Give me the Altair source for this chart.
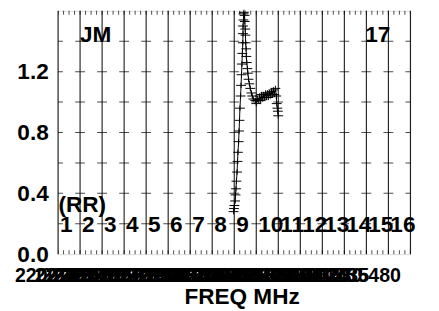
import json
import altair as alt
import pandas as pd

# ---- data ----
trace_x = [7.97, 7.99, 8.01, 8.04, 8.06, 8.08, 8.10, 8.13, 8.15, 8.17, 8.20, 8.22, 8.24, 8.26, 8.29, 8.31,
           8.33, 8.35, 8.37, 8.39, 8.40, 8.40, 8.42, 8.42,
           8.44, 8.47, 8.48, 8.50, 8.51, 8.52, 8.54, 8.55, 8.57, 8.60, 8.62, 8.65, 8.69, 8.73, 8.78, 8.82,
           8.87, 8.96, 9.00,
           9.06, 9.11, 9.15, 9.20, 9.24, 9.29, 9.33, 9.38, 9.42, 9.46, 9.51, 9.55, 9.60, 9.64, 9.69, 9.73,
           9.78, 9.82, 9.87, 9.91, 9.93, 9.96, 9.98, 10.0]
trace_y = [0.28, 0.30, 0.32, 0.35, 0.39, 0.43, 0.48, 0.54, 0.61, 0.67, 0.74, 0.81, 0.88, 0.96, 1.04, 1.11,
           1.18, 1.25, 1.32, 1.39, 1.45, 1.50, 1.54, 1.58,
           1.59, 1.57, 1.53, 1.48, 1.44, 1.39, 1.35, 1.30, 1.26, 1.22, 1.19, 1.15, 1.12, 1.09, 1.06, 1.04,
           1.02, 1.01, 0.99,
           1.02, 1.01, 1.04, 1.01, 1.05, 1.02, 1.05, 1.03, 1.06, 1.03, 1.06, 1.03, 1.06, 1.04, 1.07, 1.05,
           1.08, 1.05, 1.09, 1.04, 0.99, 0.96, 0.94, 0.91]

channel_lines = [0, 1, 2, 3, 4, 5, 6, 7, 8, 9, 10, 11, 12, 13, 14, 15, 16]
channel_labels = ["1", "2", "3", "4", "5", "6", "7", "8", "9", "10", "11", "12", "13", "14", "15", "16"]
grid_y = [0.2, 0.4, 0.6, 0.8, 1.0, 1.2, 1.4]
minor_x = [0.25 * i for i in range(65)]
edge_y = [0.0, 1.6]
y_ticks = [0.0, 0.4, 0.8, 1.2]

freq_pos = [0.0, 0.9, 1.2, 1.5, 1.8, 2.1, 2.4, 2.7, 3.0, 3.3, 3.6, 3.9, 4.2, 4.5,
            4.8, 5.1, 5.4, 5.7, 6.0, 6.3, 6.6, 6.9, 7.2, 7.5, 7.8, 8.1, 8.4, 8.7, 9.0, 9.3,
            9.6, 9.9, 10.2, 10.5, 10.8, 11.1, 11.4, 11.7, 12.0, 12.3, 12.6, 12.9, 13.2, 13.5,
            13.8, 14.1, 15.55]
freq_labels = ["2200", "2215", "2220", "2225", "2230", "2235", "2240", "2245",
               "2250", "2255", "2260", "2265", "2270", "2275", "2280", "2285", "2290", "2295",
               "2300", "2305", "2310", "2315", "2320", "2325", "2330", "2335", "2340", "2345",
               "2350", "2355", "2360", "2365", "2370", "2375", "2380", "2385", "2390", "2395",
               "2400", "2405", "2410", "2415", "2420", "2425", "2430", "2435", "5480"]

FONT = "Liberation Sans"
W, H = 359, 248

xscale = alt.Scale(domain=[0, 16], nice=False, zero=False)
yscale = alt.Scale(domain=[0, 1.6], nice=False, zero=False)

label_expr = "%s[indexof(%s, datum.value)]" % (json.dumps(freq_labels), json.dumps(freq_pos))

xaxis = alt.Axis(values=freq_pos, labelExpr=label_expr, ticks=False, domain=False, grid=False,
                 labelOverlap=False, labelFlush=False, labelBound=False, labelAlign="right",
                 labelFont=FONT, labelFontSize=20, labelFontWeight="bold", labelColor="black",
                 labelPadding=12,
                 title="FREQ MHz", titleFont=FONT, titleFontSize=23, titleFontWeight="bold",
                 titleColor="black", titleX=187, titleY=50, titleAlign="center",
                 titleBaseline="alphabetic")
yaxis = alt.Axis(values=y_ticks, format=".1f", ticks=False, domain=False, grid=False,
                 labelFont=FONT, labelFontSize=23, labelFontWeight="bold", labelColor="black",
                 labelPadding=10, title=None)

def X(field):
    return alt.X(field, scale=xscale, axis=xaxis)

def Y(field):
    return alt.Y(field, scale=yscale, axis=yaxis)

df_lines = pd.DataFrame({"xv": channel_lines})
df_cross = pd.DataFrame([(x, y) for x in channel_lines for y in grid_y], columns=["gx", "gy"])
df_minor = pd.DataFrame([(x, y) for x in minor_x for y in edge_y], columns=["mx", "my"])
df_ch = pd.DataFrame({"cx": channel_lines[:16], "lab": channel_labels})
df_tr = pd.DataFrame({"x": trace_x, "y": trace_y, "i": list(range(len(trace_x)))})

rules = alt.Chart(df_lines).mark_rule(color="black", strokeWidth=1).encode(
    x=X("xv:Q"),
)

cross = alt.Chart(df_cross).mark_tick(orient="horizontal", size=10, thickness=1, color="black",
                                      clip=True).encode(
    x=X("gx:Q"),
    y=Y("gy:Q"),
)

minor = alt.Chart(df_minor).mark_tick(orient="vertical", size=8, thickness=1, color="black",
                                      clip=True).encode(
    x=X("mx:Q"),
    y=Y("my:Q"),
)

ch_text = alt.Chart(df_ch).mark_text(align="left", baseline="middle", dx=2, font=FONT, fontSize=23,
                                     fontWeight="bold", color="black").encode(
    x=X("cx:Q"),
    y=alt.datum(0.19, scale=yscale, axis=yaxis),
    text="lab:N",
)

def note(txt, xv, yv):
    return alt.Chart(pd.DataFrame({"t": [txt]})).mark_text(
        align="left", baseline="middle", font=FONT, fontSize=23, fontWeight="bold", color="black"
    ).encode(x=alt.datum(xv, scale=xscale, axis=xaxis), y=alt.datum(yv, scale=yscale, axis=yaxis),
             text="t:N")

notes = note("(RR)", 0.02, 0.32) + note("JM", 1.0, 1.44) + note("17", 13.95, 1.44)

line = alt.Chart(df_tr).mark_line(color="black", strokeWidth=1).encode(
    x=X("x:Q"),
    y=Y("y:Q"),
    order="i:Q",
)
pts = alt.Chart(df_tr).mark_point(shape="M-1,0L1,0M0,-0.55L0,0.55", size=100, filled=False,
                                  color="black", strokeWidth=1, opacity=1).encode(
    x=X("x:Q"),
    y=Y("y:Q"),
)

chart = alt.layer(rules, cross, minor, ch_text, notes, line, pts).properties(
    width=W, height=H,
    autosize=alt.AutoSizeParams(type="none"),
    padding={"left": 51, "top": 0, "right": 21, "bottom": 55},
).configure_view(stroke="#555", strokeWidth=1).configure(background="white")

chart.save("out.html", embed_options={"renderer": "svg", "actions": False})
